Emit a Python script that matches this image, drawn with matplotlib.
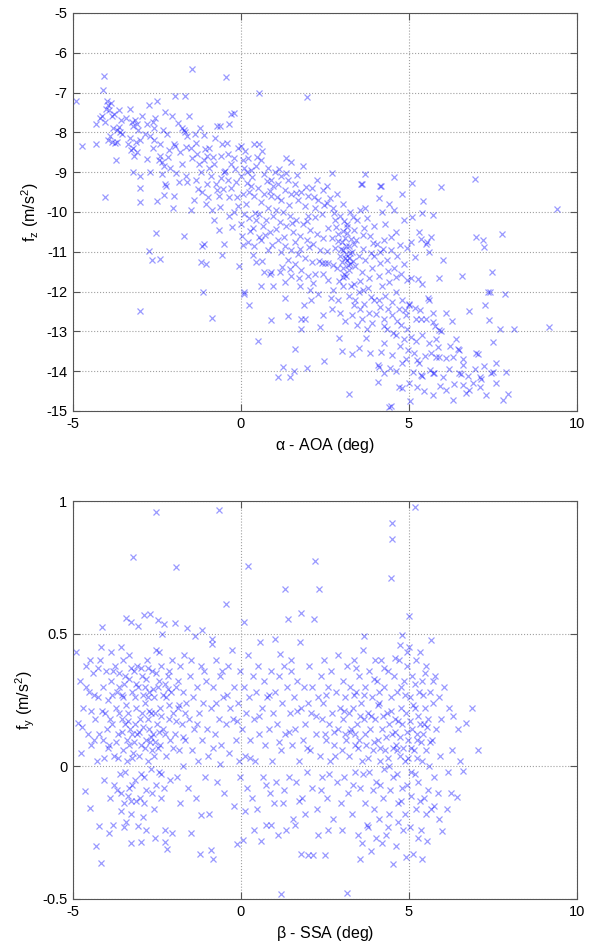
import numpy as np
import matplotlib
matplotlib.use("Agg")
import matplotlib.pyplot as plt
from matplotlib.ticker import FormatStrFormatter

# --- data: angle of attack (deg) vs f_z (m/s^2) ---
aoa_fz_a = [(-4.90, -7.20), (-4.74, -8.33), (-4.30, -8.28), (-4.32, -7.78), (-4.09, -6.59), (-4.12, -6.93),
            (-4.06, -9.63), (-4.15, -7.60), (-4.00, -7.20), (-3.95, -7.30), (-3.92, -7.45), (-4.02, -7.42),
            (-3.88, -7.25), (-3.85, -7.60), (-3.80, -7.90), (-3.72, -8.69), (-3.84, -8.23), (-3.74, -8.27),
            (-3.64, -7.86), (-3.60, -8.00), (-3.68, -7.95), (-3.55, -8.05), (-3.95, -8.20), (-4.05, -7.75),
            (-3.78, -7.55), (-3.70, -8.25), (-3.58, -7.70), (-4.20, -7.65), (-3.90, -8.10)]
aoa_fz_b = [(-3.30, -7.40), (-3.25, -7.75), (-3.20, -7.85), (-3.10, -7.80), (-3.15, -7.70), (-3.05, -7.95),
            (-3.30, -8.15), (-3.20, -8.40), (-3.28, -8.45), (-3.10, -8.50), (-3.00, -8.20), (-3.18, -8.60),
            (-2.95, -7.60), (-3.35, -8.30), (-3.20, -9.00), (-3.00, -9.10), (-3.00, -9.40), (-3.00, -9.76),
            (-2.75, -7.30), (-2.80, -7.80), (-2.72, -8.10), (-2.50, -7.20), (-2.80, -8.67), (-2.40, -8.60),
            (-2.35, -8.75), (-2.30, -8.85), (-2.45, -8.70), (-2.50, -9.73), (-2.25, -9.30), (-2.22, -9.35),
            (-2.30, -9.57), (-2.27, -7.50), (-2.55, -7.65), (-2.60, -8.20), (-2.62, -8.40), (-2.40, -8.30),
            (-2.20, -8.05), (-2.15, -8.45), (-2.35, -9.05), (-2.70, -9.00), (-2.53, -10.52), (-2.73, -10.98),
            (-2.65, -11.20), (-3.00, -12.50), (-2.40, -11.18), (-2.60, -7.90), (-2.10, -8.90), (-2.05, -7.60)]
aoa_fz_c = [(-2.00, -9.60), (-2.03, -9.90), (-2.00, -8.30), (-1.95, -8.35), (-1.96, -7.09), (-1.75, -7.90),
            (-1.70, -7.95), (-1.68, -8.00), (-1.60, -8.10), (-1.56, -7.60), (-1.65, -9.10), (-1.60, -9.25),
            (-1.46, -6.42), (-1.23, -7.88), (-1.11, -8.07), (-1.80, -8.50), (-1.75, -8.80), (-1.50, -8.40),
            (-1.45, -8.65), (-1.30, -8.55), (-1.25, -8.80), (-1.20, -9.00), (-1.10, -8.70), (-1.00, -8.60),
            (-0.95, -8.90), (-0.90, -9.10), (-0.80, -8.80), (-0.75, -9.30), (-0.70, -9.45), (-0.65, -9.60),
            (-0.60, -9.15), (-1.00, -9.30), (-1.15, -9.50), (-1.35, -9.20), (-1.40, -9.70), (-1.05, -9.80),
            (-0.85, -9.95), (-0.70, -7.85), (-0.62, -7.85), (-0.55, -8.30), (-0.60, -8.60), (-0.50, -9.00),
            (-1.70, -10.60), (-1.15, -10.85), (-1.10, -10.80), (-1.20, -11.25), (-1.05, -11.30), (-1.12, -12.00),
            (-0.86, -12.66), (-0.55, -11.08), (-1.66, -7.08), (-0.80, -10.20), (-0.65, -10.45), (-0.52, -10.80),
            (-1.50, -9.95), (-1.85, -9.25), (-0.95, -8.40)]
aoa_fz_d = [(-0.45, -6.60), (-0.30, -7.55), (-0.22, -7.52), (-0.37, -7.80), (0.00, -8.35), (0.40, -8.30),
            (0.53, -8.30), (0.55, -7.02), (0.18, -9.00), (0.23, -9.50), (-0.20, -10.00), (-0.40, -8.55),
            (-0.30, -8.80), (-0.20, -8.65), (-0.10, -8.40), (0.05, -8.70), (0.10, -8.90), (0.20, -8.65),
            (0.30, -8.95), (0.45, -8.85), (0.60, -8.70), (0.70, -9.05), (0.80, -8.90), (0.90, -9.20),
            (-0.40, -9.20), (-0.30, -9.40), (-0.15, -9.25), (0.00, -9.10), (0.05, -9.55), (0.15, -9.80),
            (0.30, -9.35), (0.40, -9.60), (0.50, -9.40), (0.60, -9.75), (0.70, -9.55), (0.80, -9.90),
            (0.90, -9.60), (0.95, -9.35), (-0.35, -10.10), (-0.10, -9.85), (0.00, -10.30), (0.10, -10.05),
            (0.25, -10.15), (0.35, -10.40), (0.45, -10.20), (0.55, -10.05), (0.65, -10.35), (0.75, -10.20),
            (0.85, -10.50), (0.95, -10.10), (0.02, -10.60), (0.20, -10.75), (0.40, -10.85), (0.60, -10.70),
            (0.80, -10.95), (-0.05, -11.35), (0.10, -12.05), (0.25, -12.35), (0.45, -11.25), (0.50, -13.25),
            (0.90, -11.50), (0.70, -11.50), (0.85, -11.55), (0.08, -12.00), (0.90, -12.72), (0.60, -11.85),
            (0.95, -11.85)]
aoa_fz_e = [(1.00, -9.00), (1.10, -9.30), (1.20, -9.10), (1.30, -9.45), (1.40, -9.20), (1.50, -9.55),
            (1.60, -9.30), (1.70, -9.70), (1.80, -9.50), (1.90, -9.85), (2.00, -9.60), (2.10, -9.40),
            (2.20, -9.90), (2.30, -9.70), (2.40, -10.05), (1.95, -7.12), (1.05, -9.95), (1.15, -10.25),
            (1.25, -10.00), (1.35, -10.35), (1.45, -10.10), (1.55, -10.50), (1.65, -10.20), (1.75, -10.60),
            (1.85, -10.30), (1.95, -10.70), (2.05, -10.45), (2.15, -10.80), (2.25, -10.55), (2.35, -10.95),
            (2.45, -10.65), (1.10, -10.70), (1.20, -11.00), (1.30, -10.85), (1.40, -11.20), (1.50, -10.95),
            (1.60, -11.30), (1.70, -11.05), (1.80, -11.45), (1.90, -11.15), (2.00, -11.60), (2.10, -11.25),
            (2.20, -11.55), (2.40, -11.27), (2.50, -11.27), (2.60, -11.27), (1.15, -11.50), (1.30, -11.75),
            (1.50, -11.60), (1.75, -11.85), (2.05, -11.95), (2.30, -12.05), (1.30, -12.15), (2.08, -12.20),
            (1.39, -12.62), (1.80, -12.70), (1.90, -12.70), (2.43, -12.60), (1.95, -13.93), (1.58, -14.00),
            (1.25, -13.90), (1.45, -14.15), (1.10, -14.15), (2.46, -13.74), (1.60, -13.45), (1.80, -12.95),
            (2.35, -12.90), (1.35, -8.65), (1.50, -8.75), (1.85, -8.85), (2.25, -9.20), (2.45, -9.45),
            (1.60, -10.75), (2.00, -10.10), (1.20, -9.70)]
aoa_fz_f = [(2.70, -9.03), (2.55, -9.35), (2.65, -9.65), (2.75, -9.90), (2.85, -9.55), (2.95, -10.10),
            (3.05, -9.80), (3.15, -10.30), (3.25, -10.00), (3.35, -10.45), (3.45, -10.20), (3.55, -9.95),
            (3.57, -9.30), (3.65, -10.40), (3.75, -10.15), (3.85, -10.60), (3.95, -10.35), (2.60, -10.40),
            (2.70, -10.65), (2.80, -10.90), (2.90, -10.55), (3.00, -10.75), (3.05, -10.95), (3.10, -10.65),
            (3.12, -11.05), (3.15, -11.20), (3.20, -10.85), (3.22, -11.15), (3.25, -11.30), (3.30, -11.00),
            (3.35, -10.80), (3.00, -11.25), (3.05, -11.40), (3.10, -11.15), (2.95, -11.10), (3.20, -11.45),
            (3.40, -11.35), (3.50, -11.10), (3.60, -11.50), (3.70, -11.20), (3.80, -11.65), (3.90, -11.40),
            (2.60, -11.70), (2.75, -11.95), (2.90, -12.20), (3.05, -11.85), (3.20, -12.10), (3.35, -12.35),
            (3.50, -12.00), (3.65, -12.30), (3.80, -12.55), (3.95, -12.20), (2.70, -12.45), (2.95, -12.55),
            (3.10, -12.75), (3.30, -12.60), (3.45, -12.85), (3.60, -12.70), (3.75, -12.95), (3.90, -12.80),
            (2.93, -13.16), (3.00, -13.50), (3.30, -13.58), (3.50, -13.43), (3.84, -13.55), (3.20, -14.58),
            (3.40, -12.20), (3.55, -12.45), (4.10, -9.64), (4.17, -9.35), (3.70, -9.90), (2.80, -10.20),
            (3.95, -11.10), (3.69, -9.05), (3.59, -9.30), (4.56, -9.13), (4.14, -9.35), (4.78, -9.55),
            (4.40, -9.80), (4.20, -10.00), (4.55, -9.95), (4.85, -10.20)]
aoa_fz_g = [(4.08, -13.85), (4.10, -13.90), (4.27, -14.05), (4.09, -14.26), (4.40, -14.90), (4.45, -14.88),
            (4.70, -14.40), (4.80, -14.42), (4.78, -13.80), (4.05, -10.80), (4.15, -11.00), (4.25, -10.70),
            (4.35, -11.20), (4.45, -10.95), (4.55, -11.40), (4.65, -11.10), (4.75, -11.55), (4.85, -11.30),
            (4.95, -11.70), (4.10, -11.60), (4.20, -11.85), (4.30, -12.10), (4.40, -11.75), (4.50, -12.25),
            (4.60, -12.00), (4.70, -12.45), (4.80, -12.20), (4.90, -12.60), (5.00, -12.30), (4.15, -12.40),
            (4.25, -12.70), (4.35, -12.95), (4.50, -12.60), (4.60, -13.10), (4.75, -12.85), (4.85, -13.20),
            (4.95, -12.95), (5.05, -13.15), (5.20, -13.25), (5.40, -13.10), (5.60, -13.30), (5.80, -13.20),
            (5.20, -12.70), (5.35, -12.70), (5.50, -12.70), (5.18, -12.42), (5.00, -12.35), (5.05, -11.65),
            (5.26, -11.68), (5.40, -11.80), (5.56, -12.15), (5.60, -12.20), (5.36, -10.67), (5.50, -10.80),
            (5.55, -10.75), (5.67, -10.64), (5.18, -11.13), (5.60, -11.00), (4.95, -10.90), (5.05, -10.75),
            (4.60, -10.50), (4.30, -10.30), (5.37, -14.10), (5.40, -14.12), (5.00, -14.30), (5.25, -14.40),
            (5.45, -14.50), (5.03, -14.74), (4.50, -13.60), (4.90, -13.70), (5.15, -13.55), (4.60, -14.00),
            (4.25, -13.30), (5.30, -13.80), (5.09, -9.26), (5.43, -9.72), (5.94, -9.36), (5.10, -10.13),
            (5.40, -10.03), (5.72, -10.08), (5.30, -10.50)]
aoa_fz_h = [(5.72, -12.53), (5.72, -12.76), (5.90, -12.97), (5.95, -12.98), (6.00, -11.20), (6.09, -12.53),
            (6.27, -12.75), (6.45, -13.45), (6.50, -13.48), (6.57, -11.60), (6.60, -13.70), (6.60, -13.85),
            (6.79, -12.50), (6.98, -10.64), (7.00, -13.55), (7.05, -13.57), (7.20, -10.70), (7.22, -10.87),
            (7.27, -12.34), (7.35, -12.00), (7.40, -12.00), (7.37, -12.72), (7.48, -11.50), (7.50, -13.26),
            (7.60, -13.80), (7.70, -12.94), (7.78, -10.55), (7.86, -12.06), (8.13, -12.95), (9.18, -12.90),
            (9.42, -9.93), (6.96, -9.18), (5.80, -13.65), (5.90, -13.65), (6.10, -13.68), (6.30, -13.65),
            (5.70, -14.05), (5.75, -14.05), (6.00, -14.14), (6.50, -14.05), (6.55, -14.07), (6.90, -14.30),
            (7.10, -14.15), (7.15, -14.20), (7.45, -14.05), (7.50, -14.03), (7.60, -14.30), (7.90, -14.03),
            (5.72, -14.60), (6.10, -14.47), (6.30, -14.72), (6.70, -14.55), (6.78, -14.47), (7.10, -14.40),
            (7.80, -14.72), (7.94, -14.57), (5.90, -11.65), (5.85, -13.40), (6.20, -13.95), (5.65, -13.55),
            (6.40, -13.20), (6.60, -14.35), (7.30, -14.60), (6.95, -13.95)]
# denser core of the band, irregular positions
aoa_fz_core = [(-0.82, -8.62), (-0.47, -8.97), (-0.12, -9.63), (0.33, -9.12), (0.62, -8.48), (0.87, -9.47),
               (1.13, -8.92), (1.42, -9.83), (1.68, -9.07), (1.97, -10.23), (2.21, -10.12), (2.56, -9.78),
               (2.83, -10.37), (3.17, -10.53), (3.43, -10.71), (3.62, -10.93), (3.88, -11.02), (4.13, -11.27),
               (4.38, -11.48), (4.62, -11.63), (0.17, -9.27), (0.43, -10.02), (0.71, -10.57), (1.03, -10.43),
               (1.27, -10.63), (1.53, -10.27), (1.77, -10.93), (2.02, -10.87), (2.31, -11.23), (2.57, -10.97),
               (2.87, -11.42), (3.13, -11.62), (3.37, -11.82), (3.63, -11.97), (3.87, -12.13), (4.12, -12.22),
               (4.37, -12.43), (4.63, -12.73), (4.87, -12.47), (-0.63, -9.87), (-0.27, -10.37), (0.07, -10.83),
               (0.37, -11.07), (0.63, -11.22), (0.93, -10.82), (1.23, -11.38), (1.47, -11.43), (1.73, -11.67),
               (2.13, -11.78), (2.43, -11.57), (2.73, -11.33), (3.03, -11.63), (3.27, -11.87), (3.53, -11.73),
               (3.77, -11.90), (4.03, -12.57), (4.27, -12.87), (4.53, -13.03), (4.73, -13.37), (4.97, -13.47),
               (5.23, -13.73), (5.47, -13.63), (-1.33, -8.27), (-1.07, -8.43), (-0.77, -8.13), (-0.43, -8.27),
               (-0.17, -8.93), (0.13, -8.47), (0.47, -8.63), (0.77, -9.23), (1.07, -9.63), (1.33, -9.03),
               (1.63, -9.53), (1.93, -9.37), (2.17, -9.63), (2.47, -9.83), (2.77, -10.03), (3.07, -10.23),
               (3.33, -10.13), (3.63, -10.57), (3.93, -10.77), (4.23, -10.93), (4.47, -10.63), (4.73, -10.83),
               (2.93, -11.73), (3.17, -10.37), (3.03, -10.47), (3.27, -10.67), (3.12, -10.85), (2.97, -10.93),
               (3.23, -11.03), (3.18, -11.33), (3.08, -11.57), (3.33, -11.22), (2.88, -10.72), (-2.33, -7.93),
               (-2.63, -7.73), (-2.87, -8.03), (-3.13, -8.23), (-3.43, -7.63), (-3.63, -7.43), (-1.87, -7.77),
               (-1.63, -8.37), (-1.37, -8.03), (-2.17, -8.63), (-1.93, -9.03), (-1.27, -9.43), (-0.97, -9.63),
               (-0.37, -9.63), (-0.53, -9.43), (0.27, -10.47), (0.53, -10.63), (1.87, -12.33), (2.67, -12.17),
               (3.73, -13.17), (4.17, -13.53), (4.43, -13.93), (5.13, -14.03), (5.63, -13.97), (5.93, -14.37),
               (6.33, -14.33), (6.77, -14.13), (7.23, -13.87), (5.33, -12.47), (5.77, -12.87), (6.23, -13.37)]

# --- data: sideslip angle (deg) vs f_y (m/s^2) ---
ssa_fy_a = [(-4.91, 0.43), (-4.86, 0.165), (-4.80, 0.32), (-4.75, 0.05), (-4.70, 0.22), (-4.63, -0.093),
            (-4.60, 0.38), (-4.55, 0.12), (-4.52, 0.28), (-4.48, -0.156), (-4.45, 0.08), (-4.40, 0.35),
            (-4.35, 0.18), (-4.31, -0.30), (-4.28, 0.02), (-4.25, 0.26), (-4.24, -0.226), (-4.20, 0.40),
            (-4.17, -0.366), (-4.15, 0.526), (-4.12, 0.10), (-4.10, 0.30), (-4.08, -0.05), (-4.05, 0.20),
            (-4.02, 0.36), (-4.00, 0.14), (-4.60, 0.30), (-4.38, 0.10), (-4.72, 0.15), (-4.50, 0.40),
            (-4.22, 0.12)]
ssa_fy_b = [(-3.97, 0.25), (-3.94, -0.25), (-3.92, 0.08), (-3.89, -0.12), (-3.86, 0.32), (-3.84, 0.16),
            (-3.80, -0.22), (-3.78, 0.04), (-3.75, 0.38), (-3.72, 0.22), (-3.69, -0.09), (-3.66, 0.12),
            (-3.64, 0.30), (-3.60, -0.03), (-3.58, 0.45), (-3.55, 0.18), (-3.52, 0.06), (-3.50, 0.26),
            (-3.48, -0.14), (-3.45, 0.34), (-3.42, 0.558), (-3.41, -0.21), (-3.40, 0.10), (-3.38, 0.02),
            (-3.36, 0.20), (-3.34, -0.08), (-3.32, 0.42), (-3.30, 0.14), (-3.28, 0.545), (-3.27, -0.29),
            (-3.25, 0.28), (-3.22, 0.79), (-3.20, 0.05), (-3.18, 0.36), (-3.15, -0.05), (-3.12, 0.22),
            (-3.10, 0.12), (-3.07, -0.226), (-3.06, 0.53), (-3.05, 0.30), (-3.02, -0.12), (-3.00, 0.18),
            (-2.99, -0.286), (-3.70, 0.28), (-3.62, 0.20), (-3.46, 0.16), (-3.33, 0.08), (-3.24, 0.12),
            (-3.14, 0.26), (-3.04, 0.04), (-3.90, 0.18), (-3.80, 0.36), (-3.56, -0.10), (-3.44, -0.02),
            (-3.16, 0.16), (-3.08, 0.38), (-3.28, -0.18), (-3.52, 0.40)]
ssa_fy_c = [(-2.97, 0.08), (-2.94, 0.34), (-2.92, 0.15), (-2.90, 0.57), (-2.88, -0.04), (-2.86, 0.24),
            (-2.84, 0.10), (-2.82, -0.24), (-2.80, 0.40), (-2.78, 0.18), (-2.76, 0.02), (-2.74, 0.28),
            (-2.72, 0.09), (-2.70, 0.576), (-2.68, 0.20), (-2.66, -0.10), (-2.64, 0.36), (-2.62, 0.12),
            (-2.60, 0.26), (-2.58, 0.04), (-2.55, -0.27), (-2.53, 0.44), (-2.52, 0.96), (-2.50, 0.16),
            (-2.48, 0.30), (-2.47, 0.55), (-2.45, -0.02), (-2.42, 0.22), (-2.40, 0.08), (-2.38, 0.38),
            (-2.35, 0.50), (-2.33, 0.14), (-2.30, 0.535), (-2.28, -0.08), (-2.26, -0.24), (-2.26, -0.285),
            (-2.24, 0.26), (-2.22, 0.04), (-2.20, -0.31), (-2.18, 0.34), (-2.15, 0.18), (-2.12, -0.05),
            (-2.10, 0.10), (-2.08, 0.28), (-2.06, 0.40), (-2.04, -0.25), (-2.02, 0.20), (-2.95, 0.20),
            (-2.85, 0.30), (-2.75, 0.14), (-2.65, 0.06), (-2.57, 0.20), (-2.43, 0.32), (-2.37, -0.12),
            (-2.25, 0.12), (-2.14, 0.36), (-2.90, -0.14), (-2.60, -0.16), (-2.78, 0.26)]
ssa_fy_d = [(-1.97, 0.54), (-1.95, 0.12), (-1.94, 0.75), (-1.92, 0.30), (-1.90, -0.04), (-1.87, 0.22),
            (-1.85, 0.06), (-1.82, 0.38), (-1.80, -0.14), (-1.77, 0.16), (-1.74, 0.28), (-1.72, 0.00),
            (-1.70, 0.42), (-1.66, 0.10), (-1.63, 0.24), (-1.61, 0.52), (-1.58, -0.08), (-1.55, 0.18),
            (-1.52, 0.34), (-1.48, -0.25), (-1.46, 0.06), (-1.44, 0.26), (-1.40, 0.14), (-1.37, 0.49),
            (-1.35, -0.12), (-1.32, 0.30), (-1.28, 0.02), (-1.25, 0.20), (-1.23, -0.33), (-1.20, 0.38),
            (-1.19, -0.185), (-1.16, 0.10), (-1.15, 0.515), (-1.12, 0.24), (-1.08, -0.04), (-1.05, 0.32),
            (-1.02, 0.14), (-1.88, 0.32), (-1.68, 0.20), (-1.50, 0.40), (-1.30, 0.16), (-1.10, 0.36)]
ssa_fy_e = [(-0.98, 0.04), (-0.94, -0.18), (-0.90, -0.317), (-0.88, 0.22), (-0.86, 0.48), (-0.86, 0.46),
            (-0.84, 0.30), (-0.82, -0.35), (-0.78, 0.12), (-0.74, 0.40), (-0.70, -0.06), (-0.66, 0.18),
            (-0.65, 0.965), (-0.62, 0.34), (-0.58, 0.08), (-0.54, 0.26), (-0.50, -0.10), (-0.46, 0.61),
            (-0.44, 0.16), (-0.40, 0.38), (-0.36, 0.05), (-0.32, 0.22), (-0.28, 0.44), (-0.22, -0.15),
            (-0.20, 0.30), (-0.16, 0.10), (-0.13, -0.294), (-0.10, 0.24), (-0.06, 0.02), (-0.04, 0.36),
            (-0.02, -0.04), (-0.75, 0.24), (-0.55, 0.36), (-0.25, 0.18)]
ssa_fy_f = [(0.02, 0.14), (0.05, -0.276), (0.08, 0.30), (0.10, 0.545), (0.12, 0.04), (0.15, 0.20),
            (0.18, -0.08), (0.20, 0.755), (0.22, 0.42), (0.25, 0.26), (0.28, 0.10), (0.32, -0.12),
            (0.35, 0.34), (0.38, 0.18), (0.42, 0.02), (0.45, 0.28), (0.48, -0.16), (0.52, 0.38),
            (0.55, 0.12), (0.58, 0.47), (0.62, 0.22), (0.65, -0.04), (0.68, 0.32), (0.72, 0.08),
            (0.75, -0.22), (0.78, 0.26), (0.82, 0.14), (0.85, -0.10), (0.88, 0.36), (0.92, 0.02),
            (0.95, 0.20), (0.98, -0.14), (0.60, -0.28), (0.40, -0.24), (0.90, -0.22)]
ssa_fy_g = [(1.00, 0.48), (1.02, 0.28), (1.05, -0.06), (1.08, 0.16), (1.12, 0.34), (1.15, 0.425),
            (1.18, 0.06), (1.20, -0.48), (1.22, 0.24), (1.25, -0.14), (1.28, 0.38), (1.31, 0.67),
            (1.32, 0.12), (1.36, 0.30), (1.40, 0.556), (1.42, -0.04), (1.45, 0.20), (1.48, 0.36),
            (1.52, 0.08), (1.55, -0.20), (1.58, 0.26), (1.62, 0.14), (1.65, -0.06), (1.68, 0.32),
            (1.72, 0.02), (1.75, 0.47), (1.78, 0.22), (1.80, 0.577), (1.80, -0.33), (1.82, -0.12),
            (1.85, 0.10), (1.88, 0.30), (1.92, 0.16), (1.95, -0.02), (1.98, 0.24), (2.00, -0.335),
            (1.10, -0.26), (1.35, -0.24), (1.60, -0.22), (1.90, -0.18), (1.50, 0.40)]
ssa_fy_h = [(2.02, 0.38), (2.05, 0.06), (2.08, 0.20), (2.10, -0.08), (2.12, 0.30), (2.17, 0.554),
            (2.20, 0.774), (2.22, 0.12), (2.25, -0.16), (2.28, 0.26), (2.32, 0.67), (2.34, 0.04),
            (2.38, 0.34), (2.40, 0.18), (2.42, -0.04), (2.45, 0.24), (2.48, 0.40), (2.52, 0.10),
            (2.55, -0.12), (2.58, 0.30), (2.62, 0.16), (2.65, 0.02), (2.68, 0.36), (2.72, 0.20),
            (2.75, -0.20), (2.78, 0.08), (2.82, 0.28), (2.85, -0.06), (2.88, 0.14), (2.90, 0.42),
            (2.94, 0.22), (2.97, -0.14), (2.30, -0.26), (2.60, -0.24), (2.50, 0.12), (2.80, 0.04),
            (2.15, -0.335), (2.50, -0.335)]
ssa_fy_i = [(3.00, 0.06), (3.03, 0.32), (3.05, 0.18), (3.08, -0.04), (3.10, 0.26), (3.12, 0.10),
            (3.15, 0.38), (3.18, -0.10), (3.16, -0.476), (3.20, 0.20), (3.22, 0.04), (3.25, 0.30),
            (3.28, 0.14), (3.30, -0.18), (3.32, 0.22), (3.35, 0.40), (3.38, 0.08), (3.40, -0.02),
            (3.42, 0.28), (3.45, 0.16), (3.48, -0.26), (3.50, 0.34), (3.52, 0.10), (3.55, -0.08),
            (3.58, 0.24), (3.60, 0.02), (3.62, 0.44), (3.65, 0.18), (3.66, 0.49), (3.68, -0.14),
            (3.70, 0.30), (3.72, 0.08), (3.75, -0.22), (3.78, 0.20), (3.80, 0.36), (3.82, -0.02),
            (3.85, 0.14), (3.88, -0.32), (3.90, 0.26), (3.92, 0.06), (3.95, -0.16), (3.98, 0.40),
            (3.10, 0.12), (3.40, 0.12), (3.70, 0.12), (3.60, -0.29), (3.54, -0.35), (3.00, -0.24)]
ssa_fy_j = [(4.00, 0.18), (4.02, -0.06), (4.05, 0.32), (4.08, 0.10), (4.10, -0.20), (4.12, 0.24),
            (4.15, 0.02), (4.18, 0.40), (4.20, 0.14), (4.22, -0.12), (4.25, 0.30), (4.45, 0.71),
            (4.28, 0.06), (4.32, -0.26), (4.35, 0.20), (4.38, 0.36), (4.40, 0.00), (4.42, -0.18),
            (4.45, 0.26), (4.48, 0.12), (4.50, 0.916), (4.50, 0.857), (4.52, -0.04), (4.55, 0.34),
            (4.58, 0.18), (4.60, -0.30), (4.62, 0.08), (4.65, 0.28), (4.68, -0.14), (4.70, 0.40),
            (4.72, 0.04), (4.73, 0.457), (4.75, 0.22), (4.78, -0.08), (4.79, 0.495), (4.80, 0.16),
            (4.82, -0.24), (4.85, 0.32), (4.88, 0.02), (4.90, 0.20), (4.92, -0.34), (4.95, 0.38),
            (4.98, 0.10), (4.10, 0.28), (4.40, 0.16), (4.65, 0.06), (4.88, -0.18), (4.20, -0.29),
            (4.51, -0.367), (4.75, 0.30)]
ssa_fy_k = [(5.00, 0.566), (5.00, 0.45), (5.02, 0.26), (5.05, -0.02), (5.08, 0.14), (5.10, 0.34),
            (5.13, -0.33), (5.15, 0.06), (5.17, 0.976), (5.18, 0.22), (5.20, -0.16), (5.22, 0.40),
            (5.25, 0.10), (5.28, -0.06), (5.30, 0.28), (5.32, 0.16), (5.35, -0.24), (5.38, 0.02),
            (5.40, 0.32), (5.42, 0.12), (5.45, -0.12), (5.48, 0.22), (5.50, 0.06), (5.52, 0.38),
            (5.55, -0.28), (5.58, 0.18), (5.60, 0.00), (5.62, 0.28), (5.65, -0.16), (5.66, 0.475),
            (5.68, 0.10), (5.72, 0.24), (5.75, -0.04), (5.78, 0.34), (5.80, 0.14), (5.85, -0.10),
            (5.88, 0.26), (5.92, 0.04), (5.95, 0.18), (5.97, -0.245), (6.05, 0.30), (6.12, -0.16),
            (6.15, -0.02), (6.20, 0.22), (6.28, 0.06), (6.32, 0.19), (6.42, -0.116), (6.45, 0.14),
            (6.52, 0.02), (6.62, -0.018), (6.70, 0.163), (6.87, 0.22), (7.04, 0.06), (5.40, -0.35),
            (5.50, -0.18), (5.90, -0.20), (5.25, 0.12), (5.70, 0.32), (6.25, -0.10), (5.45, 0.16)]
# denser cores on the left and right of the cloud
ssa_fy_core = [(-4.37, 0.27), (-4.13, 0.21), (-3.97, 0.07), (-3.83, 0.27), (-3.67, 0.03), (-3.53, 0.13),
               (-3.43, 0.23), (-3.37, 0.17), (-3.23, 0.03), (-3.17, 0.09), (-3.03, 0.13), (-2.93, 0.27),
               (-2.87, 0.07), (-2.73, 0.21), (-2.67, 0.11), (-2.57, 0.09), (-2.47, 0.07), (-2.43, 0.13),
               (-2.37, 0.19), (-2.27, 0.31), (-2.13, 0.23), (-2.03, 0.07), (-1.93, 0.17), (-1.83, 0.23),
               (-1.73, 0.11), (-3.63, 0.35), (-3.47, 0.31), (-3.27, 0.37), (-3.13, 0.31), (-2.97, 0.37),
               (-2.83, 0.33), (-2.63, 0.29), (-2.53, 0.35), (-2.33, 0.27), (-2.17, 0.29), (-3.77, -0.07),
               (-3.57, -0.17), (-3.37, -0.11), (-3.23, -0.07), (-3.13, -0.13), (-2.97, -0.03), (-2.83, -0.09),
               (-2.67, -0.01), (-2.53, -0.07), (-2.37, -0.03), (-3.47, -0.23), (-3.27, -0.13), (-2.93, -0.19),
               (-4.27, 0.37), (-4.47, 0.21), (-4.07, 0.03), (-3.73, 0.09), (-3.53, 0.27), (-3.33, 0.33),
               (-2.77, 0.37), (-2.45, 0.43), (-3.87, 0.43), (-4.17, 0.45),
               (3.07, 0.21), (3.23, 0.13), (3.37, 0.27), (3.47, 0.07), (3.53, 0.19), (3.67, 0.27),
               (3.77, 0.03), (3.87, 0.19), (3.97, 0.09), (4.07, 0.23), (4.13, 0.07), (4.23, 0.19),
               (4.33, 0.11), (4.37, 0.03), (4.47, 0.21), (4.53, 0.07), (4.57, 0.13), (4.67, 0.17),
               (4.73, 0.11), (4.83, 0.07), (4.87, 0.27), (4.93, 0.13), (4.97, 0.03), (5.03, 0.17),
               (5.07, 0.07), (5.13, 0.23), (5.23, 0.03), (5.27, 0.19), (5.37, 0.09), (5.43, 0.27),
               (5.53, 0.15), (5.63, 0.09), (3.33, -0.07), (3.63, -0.03), (3.93, -0.09), (4.13, -0.07),
               (4.27, -0.01), (4.43, -0.09), (4.63, -0.03), (4.77, -0.13), (4.93, -0.07), (5.07, -0.11),
               (5.17, -0.03), (5.33, -0.13), (5.57, -0.09), (5.73, -0.15), (3.77, -0.23), (4.03, -0.27),
               (4.37, -0.23), (4.67, -0.21), (5.03, -0.23), (5.27, -0.27), (3.43, 0.37), (3.97, 0.33),
               (4.27, 0.37), (4.57, 0.41), (5.17, 0.31), (5.47, 0.35), (4.93, 0.43), (5.33, 0.43),
               (-0.83, 0.07), (-0.43, 0.27), (-0.13, 0.17), (0.27, 0.03), (0.53, 0.19), (0.83, 0.27),
               (1.13, 0.09), (1.43, 0.13), (1.67, 0.21), (1.97, 0.07), (2.23, 0.19), (2.53, 0.27),
               (2.77, 0.13), (-0.63, 0.01), (0.13, -0.17), (0.73, -0.07), (1.27, -0.09), (1.73, -0.13),
               (2.37, -0.09), (2.63, -0.03)]

aoa_fz = np.array(aoa_fz_a + aoa_fz_b + aoa_fz_c + aoa_fz_d + aoa_fz_e + aoa_fz_f + aoa_fz_g + aoa_fz_h
                  + aoa_fz_core)
ssa_fy = np.array(ssa_fy_a + ssa_fy_b + ssa_fy_c + ssa_fy_d + ssa_fy_e + ssa_fy_f + ssa_fy_g + ssa_fy_h
                  + ssa_fy_i + ssa_fy_j + ssa_fy_k + ssa_fy_core)

plt.rcParams['font.family'] = ['Liberation Sans', 'DejaVu Sans']
plt.rcParams['mathtext.default'] = 'regular'
plt.rcParams['axes.unicode_minus'] = False

fig = plt.figure(figsize=(5.89, 9.48), dpi=100)
ax1 = fig.add_axes([0.1239, 0.5665, 0.8557, 0.4198])
ax2 = fig.add_axes([0.1239, 0.0517, 0.8557, 0.4198])


def style_axes(ax):
    # MATLAB-like look: box, inward ticks on all sides, dotted grid
    ax.grid(True, linestyle=':', color='#a0a0a0', linewidth=0.8)
    ax.set_axisbelow(True)
    ax.tick_params(direction='in', top=True, right=True, length=5, width=0.8,
                   color='#555555', labelsize=10.5, pad=4)
    for s in ax.spines.values():
        s.set_color('#555555')
        s.set_linewidth(0.8)


ax1.plot(aoa_fz[:, 0], aoa_fz[:, 1], 'x', color='blue', alpha=0.4, markersize=5, markeredgewidth=0.9)
ax1.set_xlim(-5, 10)
ax1.set_ylim(-15, -5)
ax1.set_xticks([-5, 0, 5, 10])
ax1.set_yticks(np.arange(-15, -4, 1))
ax1.set_xlabel(r'$\alpha$ - AOA (deg)', fontsize=11.5)
ax1.set_ylabel(r'f$_z$ (m/s$^2$)', fontsize=11.5)
style_axes(ax1)

ax2.plot(ssa_fy[:, 0], ssa_fy[:, 1], 'x', color='blue', alpha=0.4, markersize=5, markeredgewidth=0.9)
ax2.set_xlim(-5, 10)
ax2.set_ylim(-0.5, 1)
ax2.set_xticks([-5, 0, 5, 10])
ax2.set_yticks([-0.5, 0, 0.5, 1])
ax2.yaxis.set_major_formatter(FormatStrFormatter('%g'))
ax2.set_xlabel(r'$\beta$ - SSA (deg)', fontsize=11.5)
ax2.set_ylabel(r'f$_y$ (m/s$^2$)', fontsize=11.5)
style_axes(ax2)

fig.savefig('out.png', dpi=100)
